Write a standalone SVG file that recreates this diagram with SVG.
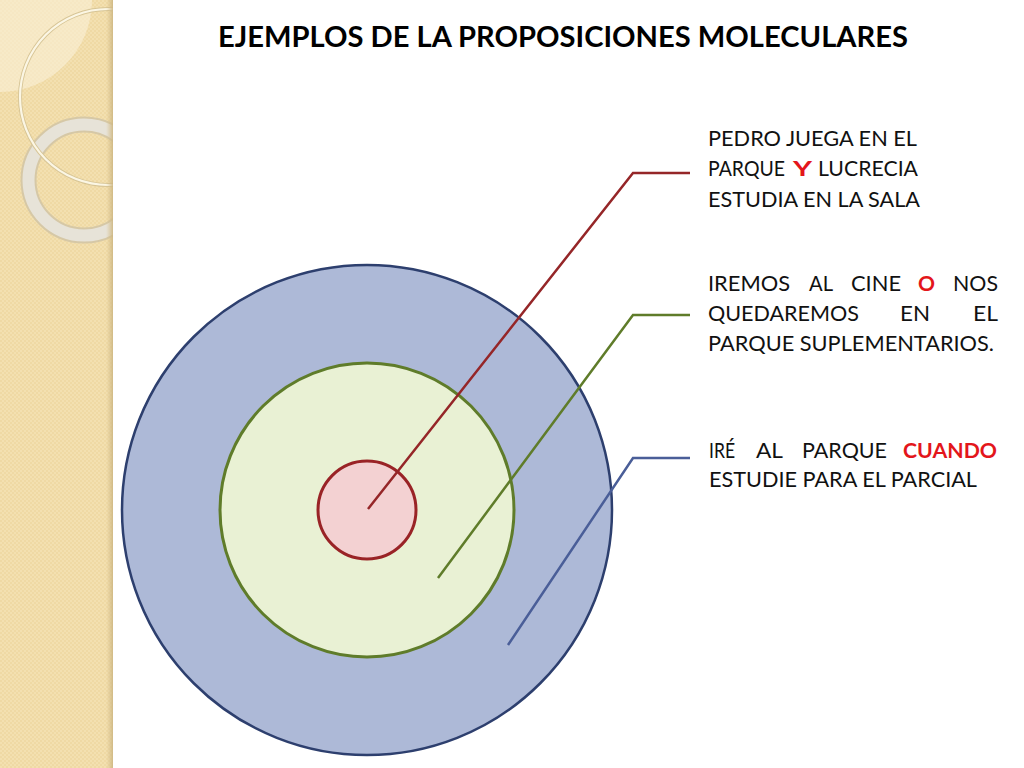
<svg xmlns="http://www.w3.org/2000/svg" width="1024" height="768" viewBox="0 0 1024 768">
  <defs>
    <pattern id="weave" width="4" height="4" patternUnits="userSpaceOnUse">
      <rect width="4" height="4" fill="#f3e0b0"/>
      <rect width="2" height="2" fill="#efd9a4"/>
      <rect x="2" y="2" width="2" height="2" fill="#efd9a4"/>
    </pattern>
    <clipPath id="bandClip"><rect x="0" y="0" width="113" height="768"/></clipPath>
    <linearGradient id="edge" x1="0" x2="1" y1="0" y2="0">
      <stop offset="0" stop-color="#d9c391" stop-opacity="0"/>
      <stop offset="1" stop-color="#cdb681" stop-opacity="0.9"/>
    </linearGradient>
  </defs>
  <style>
    .lbl { font-family: Lato, "Open Sans", "Liberation Sans", sans-serif; font-size: 21px; fill: #111111; }
    .hi { fill: #e3161b; font-weight: bold; }
    .title { font-family: Lato, "Open Sans", "Liberation Sans", sans-serif; font-size: 29px; font-weight: bold; fill: #000000; }
    .conn { fill: none; stroke-width: 2.5; stroke-linejoin: miter; }
  </style>

  <rect x="0" y="0" width="1024" height="768" fill="#ffffff"/>

  <g id="band" clip-path="url(#bandClip)">
    <rect x="0" y="0" width="113" height="768" fill="url(#weave)"/>
    <circle cx="0" cy="0" r="92" fill="#faf0d8" opacity="0.6"/>
    <circle cx="84" cy="180" r="55.5" fill="none" stroke="#d6c8a6" stroke-width="16"/>
    <circle cx="84" cy="180" r="55.5" fill="none" stroke="#e7e3d8" stroke-width="12"/>
    <circle cx="108" cy="97" r="88" fill="none" stroke="#d7c596" stroke-width="4"/>
    <circle cx="108" cy="97" r="88" fill="none" stroke="#fbf6e4" stroke-width="2.2"/>
    <rect x="106" y="0" width="7" height="768" fill="url(#edge)"/>
  </g>

  <g id="title">
    <text class="title" x="218" y="47" textLength="690" lengthAdjust="spacingAndGlyphs">EJEMPLOS DE LA PROPOSICIONES MOLECULARES</text>
  </g>

  <g id="outer-circle">
    <circle cx="367" cy="510" r="245" fill="#adb9d7" stroke="#2d3f6e" stroke-width="2.5"/>
  </g>
  <g id="middle-circle">
    <circle cx="367" cy="510" r="147" fill="#e9f1d4" stroke="#5f7c2a" stroke-width="3"/>
  </g>
  <g id="inner-circle">
    <circle cx="367" cy="510" r="49" fill="#f3d1d2" stroke="#992326" stroke-width="3"/>
  </g>

  <g id="connectors">
    <polyline class="conn" stroke="#952628" points="368,509 633,173 690,173"/>
    <polyline class="conn" stroke="#5f7c2a" points="438,578 633,315 690,315"/>
    <polyline class="conn" stroke="#4a5e98" points="508,645 633,458 690,458"/>
  </g>

  <g id="label-y">
    <text class="lbl" x="708" y="146" textLength="209" lengthAdjust="spacingAndGlyphs">PEDRO JUEGA EN EL</text>
    <text class="lbl" x="708" y="176" textLength="77" lengthAdjust="spacingAndGlyphs">PARQUE</text>
    <text class="lbl hi" x="793" y="176" textLength="19" lengthAdjust="spacingAndGlyphs">Y</text>
    <text class="lbl" x="918" y="176" text-anchor="end" textLength="100" lengthAdjust="spacingAndGlyphs">LUCRECIA</text>
    <text class="lbl" x="708" y="207" textLength="212" lengthAdjust="spacingAndGlyphs">ESTUDIA EN LA SALA</text>
  </g>

  <g id="label-o">
    <text class="lbl" x="708" y="291" textLength="82" lengthAdjust="spacingAndGlyphs">IREMOS</text>
    <text class="lbl" x="809" y="291" textLength="24" lengthAdjust="spacingAndGlyphs">AL</text>
    <text class="lbl" x="851" y="291" textLength="50" lengthAdjust="spacingAndGlyphs">CINE</text>
    <text class="lbl hi" x="918" y="291" textLength="17" lengthAdjust="spacingAndGlyphs">O</text>
    <text class="lbl" x="998" y="291" text-anchor="end" textLength="45" lengthAdjust="spacingAndGlyphs">NOS</text>
    <text class="lbl" x="708" y="321" textLength="151" lengthAdjust="spacingAndGlyphs">QUEDAREMOS</text>
    <text class="lbl" x="900" y="321" textLength="30" lengthAdjust="spacingAndGlyphs">EN</text>
    <text class="lbl" x="998" y="321" text-anchor="end" textLength="25" lengthAdjust="spacingAndGlyphs">EL</text>
    <text class="lbl" x="708" y="351" textLength="286" lengthAdjust="spacingAndGlyphs">PARQUE SUPLEMENTARIOS.</text>
  </g>

  <g id="label-cuando">
    <text class="lbl" x="709" y="458" textLength="26" lengthAdjust="spacingAndGlyphs">IRÉ</text>
    <text class="lbl" x="756" y="458" textLength="27" lengthAdjust="spacingAndGlyphs">AL</text>
    <text class="lbl" x="802" y="458" textLength="85" lengthAdjust="spacingAndGlyphs">PARQUE</text>
    <text class="lbl hi" x="997" y="458" text-anchor="end" textLength="94" lengthAdjust="spacingAndGlyphs">CUANDO</text>
    <text class="lbl" x="709" y="487" textLength="268" lengthAdjust="spacingAndGlyphs">ESTUDIE PARA EL PARCIAL</text>
  </g>
</svg>
